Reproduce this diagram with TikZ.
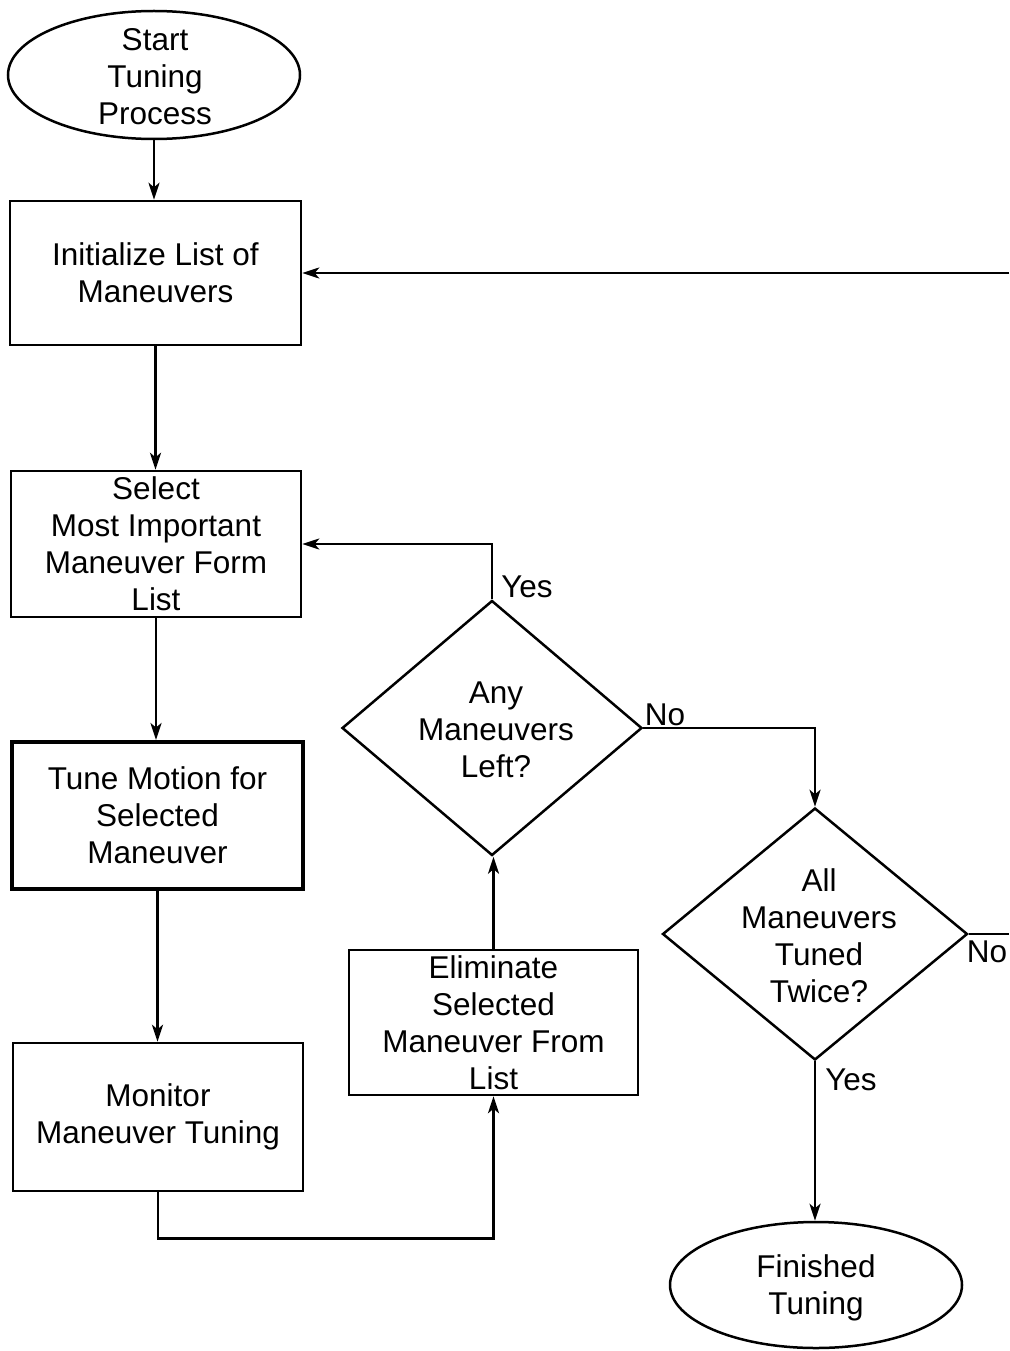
\documentclass[tikz,border=0pt]{standalone}
\usepackage{fontspec}
\setmainfont{Liberation Sans}
\usetikzlibrary{shapes.geometric,arrows.meta}
\begin{document}
\begin{tikzpicture}[x=1pt,y=-1pt,
  font=\fontsize{31.5}{37}\selectfont,
  line/.style={line width=2.5pt},
  arr/.style={line, -{Stealth[length=17pt,width=11pt,inset=4.5pt]}},
  proc/.style={draw, line width=2.5pt, rectangle, inner sep=0pt, align=center},
  term/.style={draw, line width=2.5pt, ellipse, inner sep=0pt},
  dec/.style={draw, line width=2.5pt, diamond, inner sep=0pt},
  txt/.style={align=center, inner sep=0pt},
  lbl/.style={inner sep=0pt}]
\useasboundingbox (0,0) rectangle (1009,1351);
\coordinate (redge) at (1009,0);

% terminals
\node[term, minimum width=292pt, minimum height=128pt] (start) at (154,75) {};
\node[txt] (starttxt) at (155,77) {Start\\Tuning\\Process};
\node[term, minimum width=292pt, minimum height=126pt] (fin) at (816,1285) {};
\node[txt] (fintxt) at (816,1288) {Finished\\Tuning};

% process boxes
\node[proc, minimum width=291pt, minimum height=144pt] (init) at (155.5,273) {Initialize List of\\Maneuvers};
\node[proc, minimum width=290pt, minimum height=146pt] (sel) at (156,544) {Select\\Most Important\\Maneuver Form\\List};
\node[proc, line width=4pt, minimum width=291pt, minimum height=147pt] (tune) at (157.5,815.5) {Tune Motion for\\Selected\\Maneuver};
\node[proc, minimum width=290pt, minimum height=148pt] (mon) at (158,1117) {Monitor\\Maneuver Tuning};
\node[proc, minimum width=289pt, minimum height=145pt] (elim) at (493.5,1022.5) {Eliminate\\Selected\\Maneuver From\\List};

% decisions
\node[dec, minimum width=300pt, minimum height=255pt] (any) at (492,728) {};
\node[txt] (anytxt) at (496,730) {Any\\Maneuvers\\Left?};
\node[dec, minimum width=305pt, minimum height=252pt] (tw) at (815,934) {};
\node[txt] (twtxt) at (819,936) {All\\Maneuvers\\Tuned\\Twice?};

% branch labels
\node[lbl] (yes1) at (527,587) {Yes};
\node[lbl] (no1) at (665,715) {No};
\node[lbl] (no2) at (987,952) {No};
\node[lbl] (yes2) at (851,1080) {Yes};

% connectors
\draw[arr] (start.south) -- (start.south |- init.north);
\draw[arr] (init.east -| redge) -- (init.east);
\draw[arr] (init.south) -- (init.south |- sel.north);
\draw[arr] (sel.south) -- (sel.south |- tune.north);
\draw[arr] (tune.south) -- (tune.south |- mon.north);
\draw[arr] (mon.south) -- ++(0,46) -| (elim.south);
\draw[arr] (elim.north) -- (elim.north |- any.south);
\draw[arr] (any.north) |- (sel.east);
\draw[arr] (any.east) -| (tw.north);
\draw[line] (tw.east) -- (tw.east -| redge);
\draw[arr] (tw.south) -- (tw.south |- fin.north);
\end{tikzpicture}
\end{document}
